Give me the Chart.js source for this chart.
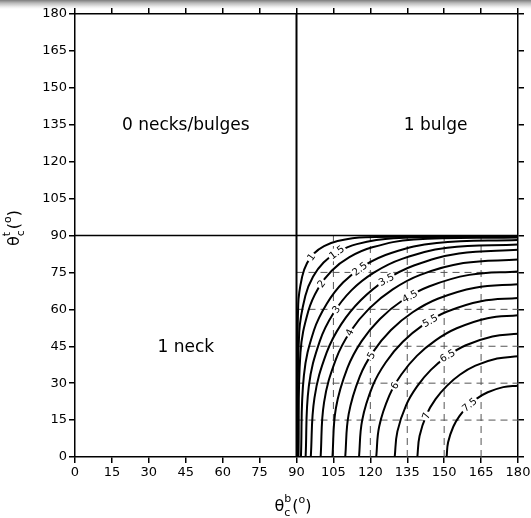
<!DOCTYPE html>
<html>
<head>
<meta charset="utf-8">
<script src="https://cdn.jsdelivr.net/npm/chart.js@4.4.1/dist/chart.umd.min.js"></script>
<style>
  html, body { margin: 0; padding: 0; }
  body {
    width: 531px; height: 518px;
    background: #fff linear-gradient(to bottom, #7d7d7d 0px, #b9b9b9 3px, #efefef 7px, #fff 9px) no-repeat;
    background-size: 531px 9px;
  }
</style>
</head>
<body>
<canvas id="contourChart" width="531" height="518"></canvas>
<script>
// contact angle axes (degrees)
const angleTicks = [0, 15, 30, 45, 60, 75, 90, 105, 120, 135, 150, 165, 180];
const boundary = 90;
const dashedX = [105, 120, 135, 150, 165];
const dashedY = [15, 30, 45, 60, 75];

// contour levels and their traced paths [θb, θt]
const levelNames = ['1', '1.5', '2', '2.5', '3', '3.5', '4', '4.5', '5', '5.5', '6', '6.5', '7', '7.5'];
const level1 = [[90.2, 0], [90.7, 62.1], [92.3, 73.3], [94.3, 78.8], [97.2, 82.8], [101.2, 85.7], [106.7, 87.8], [118.0, 89.3], [180, 89.8]];
const level15 = [[90.4, 0], [91.1, 50.6], [93.6, 65.5], [96.7, 73.2], [101.0, 79.0], [106.8, 83.3], [114.5, 86.5], [129.4, 88.9], [180, 89.6]];
const level2 = [[90.8, 0], [91.6, 42.3], [94.8, 59.3], [98.8, 68.5], [104.3, 75.7], [111.5, 81.2], [120.8, 85.2], [137.7, 88.4], [180, 89.2]];
const level25 = [[91.8, 0], [93.0, 33.1], [97.1, 51.5], [102.3, 62.3], [109.0, 71.0], [117.7, 77.9], [128.5, 82.9], [147.0, 87.0], [180, 88.2]];
const level3 = [[93.7, 0], [95.0, 28.7], [99.5, 47.2], [105.0, 58.4], [112.3, 67.7], [121.6, 75.0], [132.9, 80.5], [151.3, 85.0], [180, 86.3]];
const level35 = [[95.8, 0], [97.3, 24.0], [102.2, 42.3], [108.2, 54.0], [116.2, 63.8], [126.0, 71.8], [137.7, 77.8], [156.0, 82.7], [180, 84.2]];
const level4 = [[99.8, 0], [101.2, 22.2], [106.0, 39.7], [111.8, 50.9], [119.6, 60.4], [129.1, 68.1], [140.3, 74.0], [157.8, 78.8], [180, 80.2]];
const level45 = [[104.6, 0], [106.0, 19.8], [110.7, 36.2], [116.4, 47.0], [123.9, 56.1], [133.0, 63.6], [143.8, 69.3], [160.2, 74.0], [180, 75.4]];
const level5 = [[109.8, 0], [111.2, 17.4], [115.7, 32.7], [121.2, 42.8], [128.4, 51.6], [137.2, 58.8], [147.4, 64.3], [162.6, 68.8], [180, 70.2]];
const level55 = [[115.4, 0], [116.7, 15.0], [121.0, 29.0], [126.3, 38.5], [133.2, 46.8], [141.5, 53.7], [151.0, 59.0], [165.0, 63.3], [180, 64.6]];
const level6 = [[122.4, 0], [123.6, 12.4], [127.7, 24.9], [132.6, 33.5], [138.9, 41.1], [146.5, 47.4], [155.1, 52.3], [167.6, 56.4], [180, 57.6]];
const level65 = [[129.9, 0], [131.0, 10.4], [134.6, 21.2], [139.0, 28.7], [144.6, 35.4], [151.3, 41.0], [158.8, 45.4], [169.6, 49.0], [180, 50.1]];
const level7 = [[139.1, 0], [140.0, 8.5], [142.9, 17.3], [146.5, 23.5], [151.1, 28.9], [156.5, 33.5], [162.7, 37.1], [171.5, 40.0], [180, 40.9]];
const level75 = [[151.0, 0], [151.6, 6.0], [153.7, 12.3], [156.2, 16.6], [159.5, 20.5], [163.4, 23.8], [167.7, 26.3], [174.0, 28.4], [180, 29.0]];
const contourPaths = [level1, level15, level2, level25, level3, level35, level4, level45, level5, level55, level6, level65, level7, level75];

// where each level's number sits on its line
const labelX = [96.0, 106.4, 100.1, 115.7, 106.2, 126.5, 111.6, 136.1, 120.4, 144.3, 130.0, 151.4, 142.7, 160.3];
const labelY = [81.2, 83.1, 70.4, 76.4, 59.9, 72.0, 50.6, 65.2, 41.3, 55.3, 29.0, 41.1, 16.7, 21.2];

// region names
const regionNames = ['0 necks/bulges', '1 bulge', '1 neck'];
const regionX = [45, 146.5, 45];
const regionY = [134.5, 134.5, 44.6];

const FONT = '"DejaVu Sans", sans-serif';
Chart.defaults.font.family = FONT;
Chart.defaults.color = '#000';

const toXY = pts => pts.map(p => ({ x: p[0], y: p[1] }));

const datasets = [];
// the two boundary lines, on top
datasets.push({ data: toXY([[boundary, 0], [boundary, 180]]), borderWidth: 2 });
datasets.push({ data: toXY([[0, boundary], [180, boundary]]), borderWidth: 1.5 });
contourPaths.forEach(pts => {
    datasets.push({ data: toXY(pts), borderWidth: 2, tension: 0.4 });
});
dashedX.forEach(v => {
    datasets.push({ data: toXY([[v, 0], [v, boundary]]), borderWidth: 1, borderColor: '#555', borderDash: [7, 5] });
});
dashedY.forEach(v => {
    datasets.push({ data: toXY([[boundary, v], [180, v]]), borderWidth: 1, borderColor: '#555', borderDash: [7, 5] });
});
datasets.forEach(d => {
    d.showLine = true;
    d.pointRadius = 0;
    d.fill = false;
    if (!d.borderColor) d.borderColor = '#000';
});

function axis(position, showLabels, size) {
    const horizontal = position === 'top' || position === 'bottom';
    return {
        type: 'linear',
        position: position,
        min: 0,
        max: 180,
        afterBuildTicks: scale => {
            scale.ticks = angleTicks.map(v => ({ value: v }));
        },
        ticks: {
            display: showLabels,
            autoSkip: false,
            maxRotation: 0,
            padding: 2,
            color: '#000',
            font: { size: 13 }
        },
        grid: {
            drawOnChartArea: false,
            drawTicks: true,
            tickLength: 6,
            color: '#000',
            lineWidth: 1.5
        },
        border: { color: '#000', width: 1.5 },
        afterFit: scale => {
            if (horizontal) scale.height = size; else scale.width = size;
            scale.paddingLeft = 0;
            scale.paddingRight = 0;
            scale.paddingTop = 0;
            scale.paddingBottom = 0;
        }
    };
}

// θ with stacked sub/superscript followed by (°)
function drawAngleTitle(ctx, sup, sub) {
    const big = '16px ' + FONT;
    const small = '11px ' + FONT;
    ctx.font = big;
    const wTheta = ctx.measureText('θ').width;
    const wOpen = ctx.measureText('(').width;
    const wClose = ctx.measureText(')').width;
    ctx.font = small;
    const wScript = Math.max(ctx.measureText(sup).width, ctx.measureText(sub).width);
    const wDeg = ctx.measureText('o').width;
    let cx = -(wTheta + wScript + 1 + wOpen + wDeg + wClose) / 2;
    ctx.textAlign = 'left';
    ctx.textBaseline = 'alphabetic';
    ctx.font = big;
    ctx.fillText('θ', cx, 0);
    cx += wTheta;
    ctx.font = small;
    ctx.fillText(sup, cx, -9);
    ctx.fillText(sub, cx, 5);
    cx += wScript + 1;
    ctx.font = big;
    ctx.fillText('(', cx, 0);
    cx += wOpen;
    ctx.font = small;
    ctx.fillText('o', cx, -8);
    cx += wDeg;
    ctx.font = big;
    ctx.fillText(')', cx, 0);
}

const annotations = {
    id: 'annotations',
    afterDatasetsDraw(chart) {
        const { ctx, scales: { x, y } } = chart;

        // level numbers, cut into their lines
        ctx.save();
        ctx.font = '10px ' + FONT;
        ctx.textAlign = 'center';
        ctx.textBaseline = 'middle';
        levelNames.forEach((name, i) => {
            const pts = contourPaths[i];
            let k = pts.findIndex(p => p[0] > labelX[i]);
            if (k < 1) k = 1;
            const ax = x.getPixelForValue(pts[k - 1][0]);
            const ay = y.getPixelForValue(pts[k - 1][1]);
            const bx = x.getPixelForValue(pts[k][0]);
            const by = y.getPixelForValue(pts[k][1]);
            const ang = Math.atan2(by - ay, bx - ax);
            const w = ctx.measureText(name).width + 3;
            ctx.save();
            ctx.translate(x.getPixelForValue(labelX[i]), y.getPixelForValue(labelY[i]));
            ctx.rotate(ang);
            ctx.fillStyle = '#fff';
            ctx.fillRect(-w / 2, -5, w, 10);
            ctx.fillStyle = '#000';
            ctx.fillText(name, 0, 0.5);
            ctx.restore();
        });
        ctx.restore();

        // region names
        ctx.save();
        ctx.font = '17px ' + FONT;
        ctx.fillStyle = '#000';
        ctx.textAlign = 'center';
        ctx.textBaseline = 'middle';
        regionNames.forEach((name, i) => {
            ctx.fillText(name, x.getPixelForValue(regionX[i]), y.getPixelForValue(regionY[i]));
        });
        ctx.restore();
    },
    afterDraw(chart) {
        const ctx = chart.ctx;
        ctx.save();
        ctx.fillStyle = '#000';
        ctx.translate(293, 511);
        drawAngleTitle(ctx, 'b', 'c');
        ctx.restore();

        ctx.save();
        ctx.fillStyle = '#000';
        ctx.translate(19, 228);
        ctx.rotate(-Math.PI / 2);
        drawAngleTitle(ctx, 't', 'c');
        ctx.restore();
    }
};

new Chart(document.getElementById('contourChart').getContext('2d'), {
    type: 'scatter',
    data: { datasets: datasets },
    options: {
        responsive: false,
        animation: false,
        events: [],
        layout: { padding: { left: 0, top: 8, right: 7, bottom: 0 } },
        plugins: {
            legend: { display: false },
            tooltip: { enabled: false }
        },
        scales: {
            x: axis('bottom', true, 61),
            y: axis('left', true, 75),
            x2: axis('top', false, 6),
            y2: axis('right', false, 6)
        }
    },
    plugins: [annotations]
});
</script>
</body>
</html>
